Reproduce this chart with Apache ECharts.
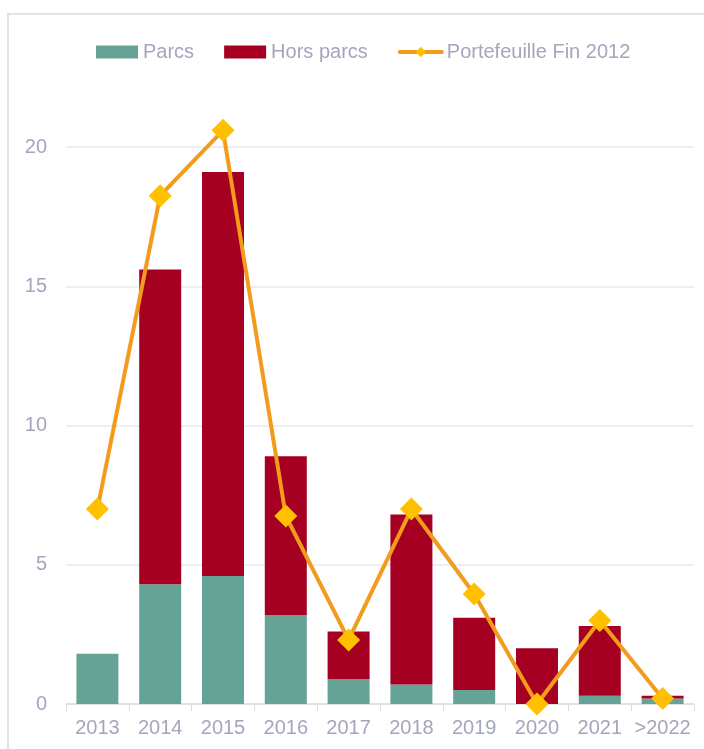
<!DOCTYPE html>
<html>
<head>
<meta charset="utf-8">
<script src="https://cdn.jsdelivr.net/npm/echarts@6/dist/echarts.min.js"></script>
<style>
  html, body { margin: 0; padding: 0; background: #fff; }
  #frame {
    position: absolute; left: 7px; top: 13px; width: 720px; height: 760px;
    border-left: 2px solid #e2e2e2; border-top: 2px solid #e2e2e2;
  }
  #chart { position: absolute; left: 0; top: 0; width: 704px; height: 749px; }
</style>
</head>
<body>
<div id="frame"></div>
<div id="chart"></div>
<script>
const categories = ["2013", "2014", "2015", "2016", "2017", "2018", "2019", "2020", "2021", ">2022"];
const parcs = [1.8, 4.3, 4.6, 3.2, 0.9, 0.7, 0.5, 0, 0.3, 0.2];
const horsParcs = [0, 11.3, 14.5, 5.7, 1.7, 6.1, 2.6, 2.0, 2.5, 0.1];
const portefeuille = [7.0, 18.25, 20.6, 6.75, 2.3, 7.0, 3.95, 0, 3.0, 0.2];

const textColor = "#a3a6bc";
const font = "'Liberation Sans', Arial, sans-serif";

const chart = echarts.init(document.getElementById("chart"));
chart.setOption({
  animation: false,
  textStyle: { fontFamily: font },
  legend: {
    left: 91,
    top: 37,
    itemWidth: 42,
    itemHeight: 13,
    itemGap: 30,
    textStyle: { color: textColor, fontSize: 20, fontFamily: font },
    data: [
      { name: "Parcs", icon: "rect" },
      { name: "Hors parcs", icon: "rect" },
      { name: "Portefeuille Fin 2012", lineStyle: { width: 4, cap: "round" } }
    ]
  },
  grid: { left: 66, right: 10, top: 147, bottom: 45 },
  xAxis: {
    type: "category",
    data: categories,
    axisLine: { lineStyle: { color: "#dcdde6", width: 1.5 } },
    axisTick: { show: true, length: 7, lineStyle: { color: "#dcdde6" } },
    axisLabel: { color: textColor, fontSize: 20, margin: 14, interval: 0, fontFamily: font }
  },
  yAxis: {
    type: "value",
    min: 0,
    max: 20,
    interval: 5,
    axisLine: { show: false },
    axisTick: { show: false },
    axisLabel: { color: textColor, fontSize: 20, margin: 19, fontFamily: font },
    splitLine: { lineStyle: { color: "#e8e8ef", width: 1.5 } }
  },
  series: [
    {
      name: "Parcs",
      type: "bar",
      stack: "total",
      barWidth: 42,
      itemStyle: { color: "#64a395" },
      data: parcs
    },
    {
      name: "Hors parcs",
      type: "bar",
      stack: "total",
      barWidth: 42,
      itemStyle: { color: "#a50021" },
      data: horsParcs
    },
    {
      name: "Portefeuille Fin 2012",
      type: "line",
      clip: false,
      z: 5,
      symbol: "diamond",
      symbolSize: 23,
      lineStyle: { color: "#f29b1d", width: 4 },
      itemStyle: { color: "#ffc000" },
      data: portefeuille
    }
  ]
});
</script>
</body>
</html>
